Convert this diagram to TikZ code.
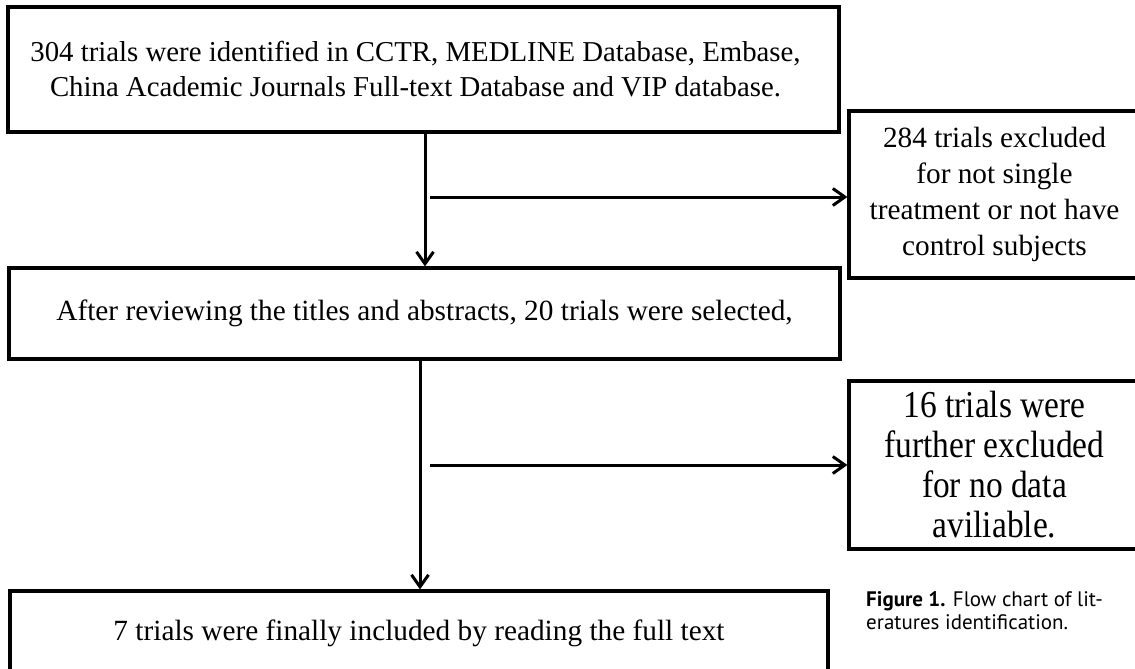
\documentclass[tikz,border=0pt]{standalone}
\usepackage{fontspec}
\setmainfont{Liberation Serif}
\newfontfamily\capfont{PT Sans}
\newfontfamily\narrowfont{Liberation Serif}[FakeStretch=0.88]
\usetikzlibrary{arrows.meta}

\begin{document}
\begin{tikzpicture}[x=1pt,y=-1pt,
    flowbox/.style={draw, line width=3.2pt, inner sep=0pt, align=center,
        font=\fontsize{29.3}{36}\selectfont},
    flowarrow/.style={line width=3pt,
        -{Straight Barb[length=12pt,width=17pt,line width=3pt]}}]
    \useasboundingbox (0,0) rectangle (1135,669);
    % Draw the main boxes
    \node[flowbox, minimum width=831pt, minimum height=125pt,
        font=\fontsize{28.8}{35}\selectfont] (found) at (423.5,69.5)
        {304 trials were identified in CCTR, MEDLINE Database, Embase,\hspace*{16pt}\\
         China Academic Journals Full-text Database and VIP database.\hspace*{16pt}};
    \node[flowbox, minimum width=831pt, minimum height=91pt] (select) at (424.5,313.5)
        {\raisebox{-6pt}{After reviewing the titles and abstracts, 20 trials were selected,}};
    \node[flowbox, minimum width=818pt, minimum height=85pt] (include) at (419,633.5)
        {7 trials were finally included by reading the full text};
    % Draw the exclusion boxes
    \node[flowbox, minimum width=291pt, minimum height=167pt] (excl1) at (994.5,194.5)
        {284 trials excluded\\ for not single\\ treatment or not have\\ control subjects};
    \node[flowbox, minimum width=291pt, minimum height=168pt,
        font=\narrowfont\fontsize{38}{40}\selectfont] (excl2) at (994.5,465)
        {16 trials were\\ further excluded\\ for no data\\ aviliable.};
    % Draw the arrows
    \coordinate (split1) at (425,197);
    \coordinate (split2) at (420,465);
    \coordinate (branch1) at (430,197);
    \coordinate (branch2) at (430,465);
    \draw[flowarrow] (found.south -| split1) -- (select.north -| split1);
    \draw[flowarrow] (select.south -| split2) -- (include.north -| split2);
    \draw[flowarrow] (branch1) -- (branch1 -| excl1.west);
    \draw[flowarrow] (branch2) -- (branch2 -| excl2.west);
    % Figure caption
    \node[anchor=north west, align=left, inner sep=0pt,
        font=\capfont\fontsize{21}{23}\selectfont] (caption) at (866,591)
        {\textbf{Figure 1.} Flow chart of lit-\\eratures identification.};
\end{tikzpicture}
\end{document}
